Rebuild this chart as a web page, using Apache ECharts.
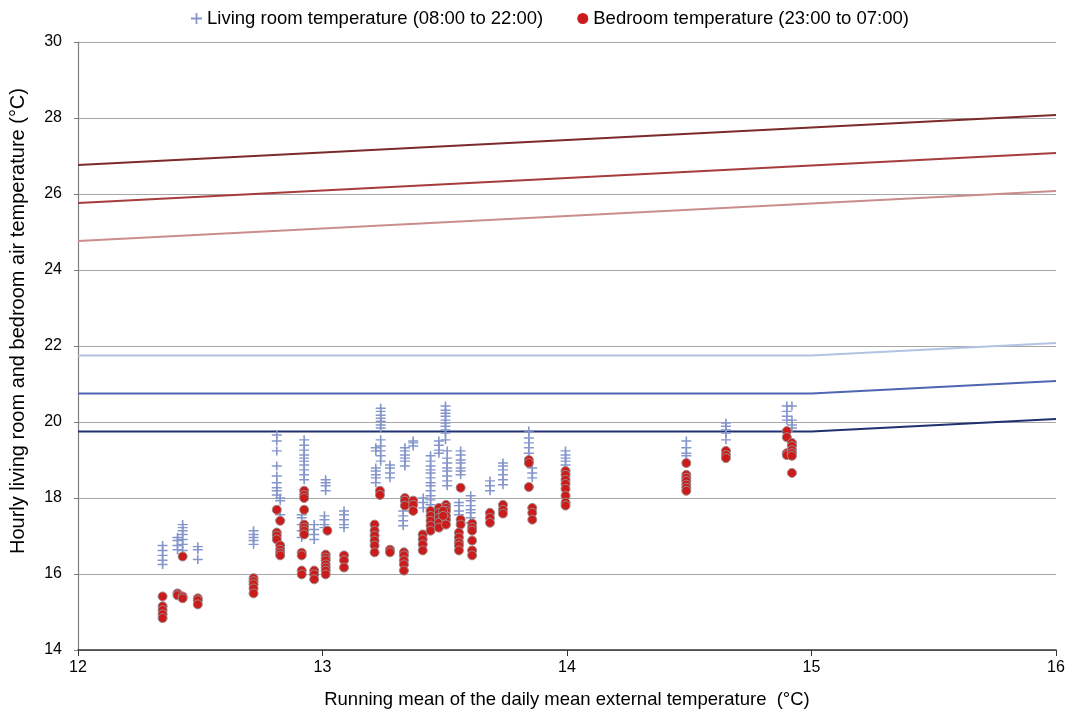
<!DOCTYPE html>
<html>
<head>
<meta charset="utf-8">
<title>Living room and bedroom temperatures</title>
<script src="https://cdn.jsdelivr.net/npm/echarts@6/dist/echarts.min.js"></script>
<style>
  html, body { margin: 0; padding: 0; background: #fff; }
  #chart { width: 1068px; height: 714px; }
</style>
</head>
<body>
<div id="chart"></div>
<script>
// running mean of the daily mean external temperature for the comfort bands
const trm = [12, 15, 16];
// upper limits (EN 15251 categories I, II, III)
const upperI = [24.76, 25.75, 26.08];
const upperII = [25.76, 26.75, 27.08];
const upperIII = [26.76, 27.75, 28.08];
// lower limits, flat below 15 °C
const lowerI = [21.75, 21.75, 22.08];
const lowerII = [20.75, 20.75, 21.08];
const lowerIII = [19.75, 19.75, 20.08];

// living room readings, grouped by running mean temperature
const livingGroups = [
  [12.346, [16.75, 16.62, 16.49, 16.36, 16.25]],
  [12.407, [16.96, 16.88, 16.75, 16.64]],
  [12.428, [17.30, 17.22, 17.14, 17.04, 16.91, 16.78, 16.62]],
  [12.49, [16.72, 16.64, 16.38]],
  [12.718, [17.14, 17.04, 16.96, 16.88, 16.78]],
  [12.813, [19.66, 19.50, 19.24, 18.84, 18.58, 18.40, 18.27, 18.19, 18.08]],
  [12.827, [18.0, 17.93, 17.56, 17.43]],
  [12.925, [19.53, 19.39, 19.26, 19.13, 19.05, 18.97, 18.87, 18.74, 18.61, 18.48]],
  [12.915, [17.56, 17.48, 17.30, 17.14, 16.96]],
  [12.966, [17.30, 17.17, 17.04, 16.91]],
  [13.013, [18.48, 18.40, 18.32, 18.19]],
  [13.008, [17.53, 17.43, 17.30, 17.22]],
  [13.088, [17.66, 17.56, 17.43, 17.30, 17.22]],
  [13.238, [20.36, 20.28, 20.18, 20.10, 20.02, 19.92, 19.84, 19.53, 19.37, 19.24, 19.11, 18.97]],
  [13.218, [19.32, 19.24, 18.79, 18.71, 18.61, 18.53, 18.40]],
  [13.276, [18.87, 18.79, 18.66, 18.53]],
  [13.337, [19.32, 19.24, 19.13, 19.05, 18.97, 18.84]],
  [13.33, [17.66, 17.53, 17.40, 17.27]],
  [13.371, [19.50, 19.45, 19.37]],
  [13.412, [18.0, 17.88, 17.74]],
  [13.442, [19.11, 18.97, 18.84, 18.74, 18.66, 18.53, 18.40, 18.32, 18.19, 18.06, 17.95, 17.82]],
  [13.476, [19.50, 19.39, 19.26, 19.18]],
  [13.503, [20.42, 20.31, 20.23, 20.15, 20.05, 19.97, 19.89, 19.79, 19.71, 19.53]],
  [13.51, [19.24, 19.05, 18.92, 18.79, 18.71, 18.58, 18.45, 18.32]],
  [13.565, [19.24, 19.13, 19.0, 18.92, 18.79, 18.71, 18.61]],
  [13.558, [17.88, 17.80, 17.66, 17.56]],
  [13.606, [18.06, 17.93, 17.80, 17.69, 17.61, 17.48, 17.35]],
  [13.685, [18.45, 18.32, 18.19]],
  [13.738, [18.92, 18.84, 18.74, 18.61, 18.48, 18.35]],
  [13.844, [19.76, 19.58, 19.45, 19.32, 19.18]],
  [13.858, [18.79, 18.66, 18.53]],
  [13.994, [19.24, 19.13, 19.05, 18.97, 18.87]],
  [14.488, [19.50, 19.32, 19.18, 19.11]],
  [14.65, [19.97, 19.89, 19.79, 19.71, 19.53]],
  [14.899, [20.42, 20.28, 20.15, 20.05]],
  [14.92, [20.42, 20.05, 19.92, 19.84, 19.45, 19.37]]
];

// bedroom readings, grouped by running mean temperature
const bedroomGroups = [
  [12.346, [15.41, 15.15, 15.05, 14.94, 14.84]],
  [12.407, [15.49, 15.44]],
  [12.428, [16.46, 15.41, 15.36]],
  [12.49, [15.36, 15.31, 15.20]],
  [12.718, [15.89, 15.81, 15.73, 15.62, 15.49]],
  [12.813, [17.69, 17.09, 17.01, 16.91]],
  [12.827, [17.40, 16.75, 16.64, 16.56, 16.49]],
  [12.925, [18.19, 18.08, 18.0, 17.69, 17.30, 17.22, 17.14, 17.04]],
  [12.915, [16.56, 16.49, 16.09, 15.99]],
  [12.966, [16.09, 15.99, 15.86]],
  [13.02, [17.14]],
  [13.013, [16.51, 16.43, 16.36, 16.25, 16.17, 16.09, 15.99]],
  [13.088, [16.49, 16.36, 16.17]],
  [13.235, [18.19, 18.08]],
  [13.213, [17.30, 17.14, 17.01, 16.88, 16.75, 16.57]],
  [13.276, [16.64, 16.57]],
  [13.337, [18.0, 17.93, 17.80]],
  [13.333, [16.57, 16.49, 16.36, 16.25, 16.09]],
  [13.371, [17.93, 17.82, 17.66]],
  [13.41, [17.04, 16.91, 16.78, 16.62]],
  [13.442, [17.66, 17.53, 17.40, 17.27, 17.14]],
  [13.476, [17.74, 17.61, 17.48, 17.35, 17.22]],
  [13.505, [17.82, 17.74, 17.66, 17.53, 17.43, 17.30]],
  [13.493, [17.66, 17.53]],
  [13.565, [18.27, 17.43, 17.30]],
  [13.558, [17.09, 16.96, 16.83, 16.75, 16.62]],
  [13.612, [17.33, 17.22, 17.14, 16.88, 16.62, 16.49]],
  [13.685, [17.61, 17.48, 17.35]],
  [13.738, [17.82, 17.69, 17.59]],
  [13.844, [19.0, 18.92, 18.29]],
  [13.858, [17.74, 17.61, 17.43]],
  [13.994, [18.71, 18.61, 18.48, 18.37, 18.24, 18.06, 17.88, 17.80]],
  [14.488, [18.92, 18.61, 18.53, 18.45, 18.35, 18.27, 18.19]],
  [14.65, [19.24, 19.13, 19.05]],
  [14.899, [19.76, 19.60, 19.18, 19.13]],
  [14.92, [19.45, 19.37, 19.26, 19.18, 19.11, 18.66]]
];

function flatten(groups) {
  const out = [];
  groups.forEach(function (g) {
    g[1].forEach(function (y) { out.push([g[0], y]); });
  });
  return out;
}

function pairs(ys) {
  return trm.map(function (x, i) { return [x, ys[i]]; });
}

// plus marker drawn as a filled cross
const plusPath = 'path://M4.2,0H5.8V4.2H10V5.8H5.8V10H4.2V5.8H0V4.2H4.2Z';
const font = 'Liberation Sans';
const plusColor = '#8596cc';
const dotColor = '#cc1b1b';

function limitLine(ys, color) {
  return {
    type: 'line',
    data: pairs(ys),
    showSymbol: false,
    silent: true,
    z: 1,
    lineStyle: { color: color, width: 2 }
  };
}

const chart = echarts.init(document.getElementById('chart'));
const option = {
  animation: false,
  textStyle: { fontFamily: font },
  legend: {
    top: 4,
    left: 186,
    itemGap: 34,
    itemWidth: 11,
    itemHeight: 11,
    textStyle: { fontSize: 18.5, color: '#000', fontFamily: font },
    data: [
      { name: 'Living room temperature (08:00 to 22:00)', icon: plusPath, itemStyle: { color: plusColor } },
      { name: 'Bedroom temperature (23:00 to 07:00)', icon: 'circle', itemStyle: { color: dotColor, borderWidth: 0 } }
    ]
  },
  grid: { left: 77, right: 12, top: 42, bottom: 61 },
  xAxis: {
    type: 'value',
    min: 12,
    max: 16,
    interval: 1,
    name: 'Running mean of the daily mean external temperature  (°C)',
    nameLocation: 'middle',
    nameGap: 40,
    nameTextStyle: { fontSize: 18.5, color: '#000', fontFamily: font },
    axisLine: { lineStyle: { color: '#333', width: 1.5 } },
    axisTick: { show: true, length: 6, lineStyle: { color: '#333' } },
    axisLabel: { fontSize: 16, color: '#000', margin: 10, fontFamily: font },
    splitLine: { show: false }
  },
  yAxis: {
    type: 'value',
    min: 14,
    max: 30,
    interval: 2,
    name: 'Hourly living room and bedroom air temperature (°C)',
    nameLocation: 'middle',
    nameGap: 50,
    nameTextStyle: { fontSize: 20, color: '#000', fontFamily: font, padding: [0, 0, 0, 50] },
    axisLine: { show: true, lineStyle: { color: '#7f7f7f', width: 1.2 } },
    axisTick: { show: true, length: 4, lineStyle: { color: '#7f7f7f' } },
    axisLabel: { fontSize: 16, color: '#000', margin: 16, fontFamily: font },
    splitLine: { show: true, lineStyle: { color: '#a6a6a6', width: 1 } }
  },
  series: [
    limitLine(upperIII, '#7c2a2a'),
    limitLine(upperII, '#a63c3c'),
    limitLine(upperI, '#c98d8d'),
    limitLine(lowerI, '#b3c3e3'),
    limitLine(lowerII, '#4e66b4'),
    limitLine(lowerIII, '#1f3170'),
    {
      name: 'Living room temperature (08:00 to 22:00)',
      type: 'scatter',
      symbol: plusPath,
      symbolSize: [10, 9],
      itemStyle: { color: plusColor, opacity: 1 },
      z: 3,
      data: flatten(livingGroups)
    },
    {
      name: 'Bedroom temperature (23:00 to 07:00)',
      type: 'scatter',
      symbol: 'circle',
      symbolSize: 9,
      itemStyle: { color: dotColor, borderColor: '#9a8a8a', borderWidth: 1, opacity: 1 },
      z: 4,
      data: flatten(bedroomGroups)
    }
  ]
};
chart.setOption(option);
</script>
</body>
</html>
